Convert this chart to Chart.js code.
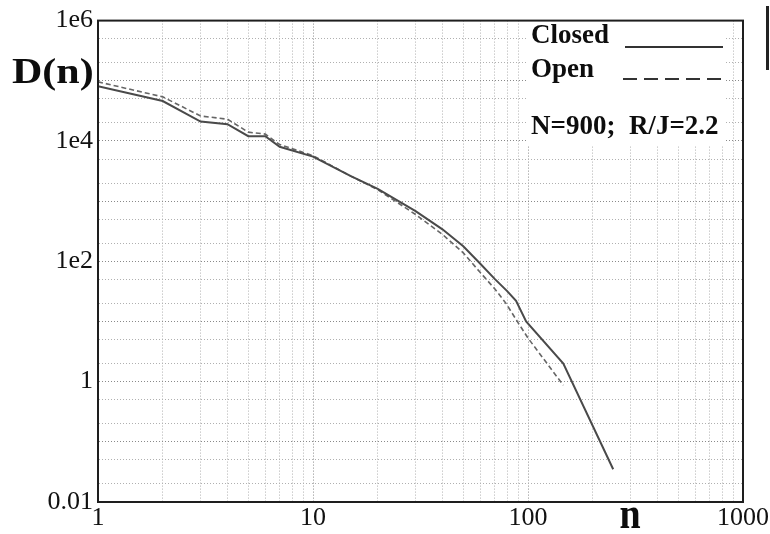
<!DOCTYPE html>
<html>
<head>
<meta charset="utf-8">
<script src="https://cdn.jsdelivr.net/npm/chart.js@4.4.1/dist/chart.umd.min.js"></script>
<style>
  html, body { margin: 0; padding: 0; background: #fff; }
  #wrap { width: 770px; height: 534px; }
</style>
</head>
<body>
<div id="wrap"><canvas id="dn" width="770" height="534"></canvas></div>
<script>
// D(n) for closed and open chains, N=900, R/J=2.2
const nClosed = [1, 2, 3, 4, 5, 6, 7, 10, 15, 20, 30, 40, 50, 60, 70, 80, 88, 98, 146, 249];
const dClosed = [8.1e4, 4.6e4, 2.1e4, 1.9e4, 1.2e4, 1.2e4, 8.0e3, 5.5e3, 2.6e3, 1.6e3, 680, 340, 178, 91, 51, 32, 22, 10, 2.0, 0.035];
const nOpen = [1, 2, 3, 4, 5, 6, 7, 10, 15, 20, 30, 40, 50, 60, 70, 79, 90, 100, 146];
const dOpen = [9.6e4, 5.4e4, 2.6e4, 2.3e4, 1.4e4, 1.3e4, 8.7e3, 5.7e3, 2.6e3, 1.55e3, 600, 280, 138, 65, 35, 20, 9.5, 5.3, 0.87];

const xLabels = { 1: "1", 10: "10", 100: "100", 1000: "1000" };
const yLabels = { "6": "1e6", "4": "1e4", "2": "1e2", "0": "1", "-2": "0.01" };

const serif = "'Liberation Serif', 'DejaVu Serif', serif";
const ink = "#1e1e1e";

function pairs(xs, ys) {
  return xs.map((x, i) => ({ x: x, y: ys[i] }));
}

// tick values: every multiple along x, 1-2-5 along y
function xTicks() {
  const t = [];
  for (let e = 0; e < 3; e++) for (let m = 1; m < 10; m++) t.push({ value: m * Math.pow(10, e) });
  t.push({ value: 1000 });
  return t;
}
function yTicks() {
  const t = [];
  for (let e = -2; e < 6; e++) [1, 2, 5].forEach(m => t.push({ value: m * Math.pow(10, e) }));
  t.push({ value: 1e6 });
  return t;
}
function isDecade(v) {
  const l = Math.log10(v);
  return Math.abs(l - Math.round(l)) < 1e-6;
}

const decor = {
  id: "decor",
  beforeDatasetsDraw(chart) {
    const c = chart.ctx;
    // blank panel behind the key
    c.save();
    c.fillStyle = "#fff";
    c.fillRect(528, 18, 198, 128);
    c.restore();
  },
  afterDraw(chart) {
    const c = chart.ctx;
    const a = chart.chartArea;
    c.save();
    // frame
    c.strokeStyle = ink;
    c.lineWidth = 2;
    c.strokeRect(a.left, a.top, a.right - a.left, a.bottom - a.top);

    // key
    c.fillStyle = "#0d0d0d";
    c.font = "bold 27px " + serif;
    c.textBaseline = "alphabetic";
    c.textAlign = "left";
    c.fillText("Closed", 531, 43);
    c.fillText("Open", 531, 77);
    c.fillText("N=900;  R/J=2.2", 531, 134);
    c.strokeStyle = "#333";
    c.lineWidth = 2;
    c.beginPath(); c.moveTo(625, 47); c.lineTo(723, 47); c.stroke();
    c.setLineDash([14, 7]);
    c.beginPath(); c.moveTo(623, 79); c.lineTo(723, 79); c.stroke();
    c.setLineDash([]);

    // axis titles, drawn a little wide
    c.save();
    c.translate(12, 83);
    c.scale(1.2, 1);
    c.font = "bold 35px " + serif;
    c.fillText("D(n)", 0, 0);
    c.restore();
    c.save();
    c.translate(630, 528);
    c.scale(1, 1.15);
    c.font = "bold 38px " + serif;
    c.textAlign = "center";
    c.fillText("n", 0, 0);
    c.restore();

    // edge mark at right
    c.fillStyle = "#222";
    c.fillRect(766, 6, 3, 64);
    c.restore();
  }
};

new Chart(document.getElementById("dn"), {
  type: "scatter",
  data: {
    datasets: [
      {
        label: "Closed",
        data: pairs(nClosed, dClosed),
        showLine: true,
        borderColor: "#4a4a4a",
        borderWidth: 2,
        pointRadius: 0,
        tension: 0
      },
      {
        label: "Open",
        data: pairs(nOpen, dOpen),
        showLine: true,
        borderColor: "#666",
        borderWidth: 1.6,
        borderDash: [5, 3],
        pointRadius: 0,
        tension: 0
      }
    ]
  },
  options: {
    responsive: false,
    animation: false,
    layout: { padding: { top: 16, right: 23, left: 0, bottom: 0 } },
    plugins: { legend: { display: false }, tooltip: { enabled: false } },
    scales: {
      x: {
        type: "logarithmic",
        min: 1,
        max: 1000,
        afterBuildTicks: s => { s.ticks = xTicks(); },
        afterFit: s => { s.height = 32; },
        grid: {
          color: ctx => isDecade(ctx.tick.value) ? "#8a8a8a" : "#b0b0b0",
          lineWidth: 1,
          drawTicks: false
        },
        border: { display: true, color: ink, width: 2, dash: [1, 2] },
        ticks: {
          autoSkip: false,
          maxRotation: 0,
          padding: 1,
          color: "#111",
          font: { family: serif, size: 26 },
          callback: v => xLabels[v] || ""
        }
      },
      y: {
        type: "logarithmic",
        min: 0.01,
        max: 1e6,
        afterBuildTicks: s => { s.ticks = yTicks(); },
        afterFit: s => { s.width = 98; },
        grid: {
          color: ctx => isDecade(ctx.tick.value) ? "#8a8a8a" : "#b0b0b0",
          lineWidth: 1,
          drawTicks: false
        },
        border: { display: true, color: ink, width: 2, dash: [1, 2] },
        ticks: {
          autoSkip: false,
          padding: 5,
          color: "#111",
          font: { family: serif, size: 26 },
          callback: v => {
            const l = Math.log10(v);
            if (Math.abs(l - Math.round(l)) > 1e-6) return "";
            return yLabels[String(Math.round(l))] || "";
          }
        }
      }
    }
  },
  plugins: [decor]
});
</script>
</body>
</html>
